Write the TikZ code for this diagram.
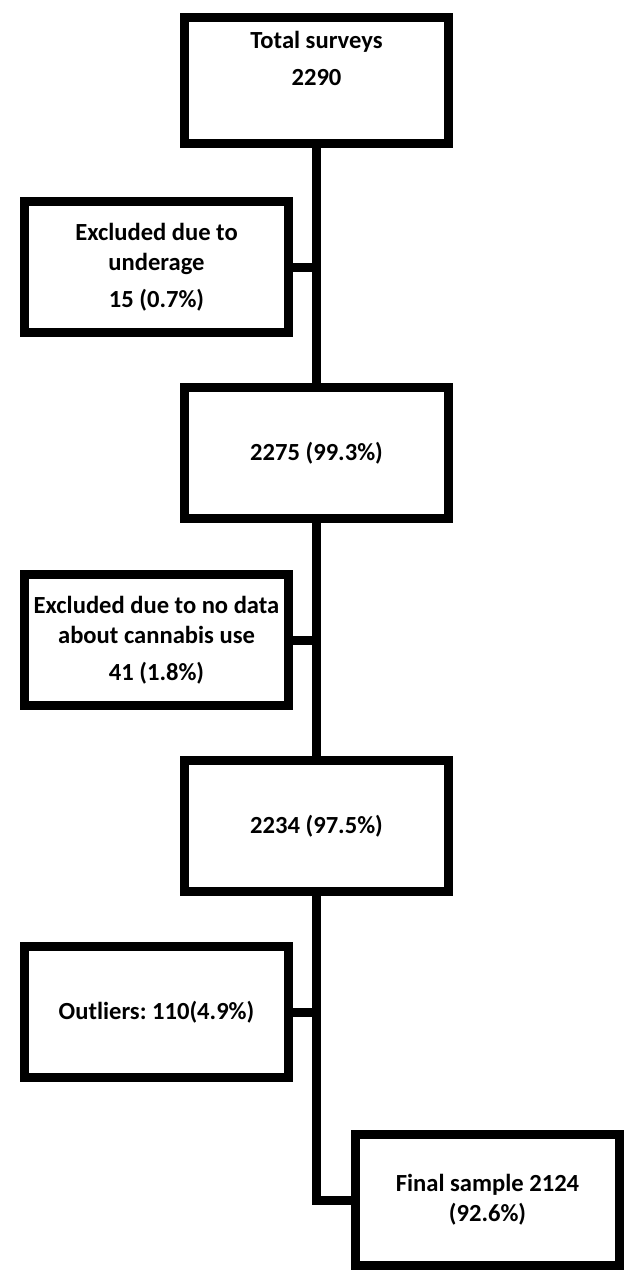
\documentclass[tikz,border=0pt]{standalone}
\usepackage{fontspec}
\setmainfont{Carlito}
\usepackage{tikz}
\usetikzlibrary{positioning}
\frenchspacing
\tikzset{
  stage/.style={rectangle,draw=black,line width=0.18cm,fill=white,minimum width=5.28cm,minimum height=2.62cm,align=center,inner sep=.1cm,font=\bfseries\fontsize{14pt}{17pt}\selectfont},
  excluded/.style={stage},
  link/.style={line width=0.18cm,black,line cap=rect,line join=miter},
}

\begin{document}
\begin{tikzpicture}
	    \useasboundingbox (0,0) rectangle (12.6,-25.62);
	    \node[stage,minimum height=2.52cm,text depth=0.9cm] (A) at (6.33,-1.61) {Total surveys\\[4pt]2290};
	    \node[excluded,below=0.98cm of A,xshift=-3.2cm] (B) {Excluded due to\\underage\\[4pt]15 (0.7\%)};
	    \node[stage,below=4.7cm of A] (C) {2275 (99.3\%)};
	    \node[excluded,below=0.94cm of C,xshift=-3.2cm] (D) {Excluded due to no data\\about cannabis use\\[4pt]41 (1.8\%)};
	    \node[stage,below=4.66cm of C] (E) {2234 (97.5\%)};
	    \node[excluded,below=0.92cm of E,xshift=-3.2cm] (F) {Outliers: 110(4.9\%)};
	    \node[stage,below=4.68cm of E,xshift=3.42cm] (G) {Final sample 2124\\(92.6\%)};
	    \draw (A) edge[link] (C);
	    \draw (C) edge[link] (E);
	    \draw (B.east) edge[link] (B.east -| A.south);
	    \draw (D.east) edge[link] (D.east -| C.south);
	    \draw (F.east) edge[link] (F.east -| E.south);
	    \draw[link] (E.south) |- (G.west);
	\end{tikzpicture}
\end{document}
